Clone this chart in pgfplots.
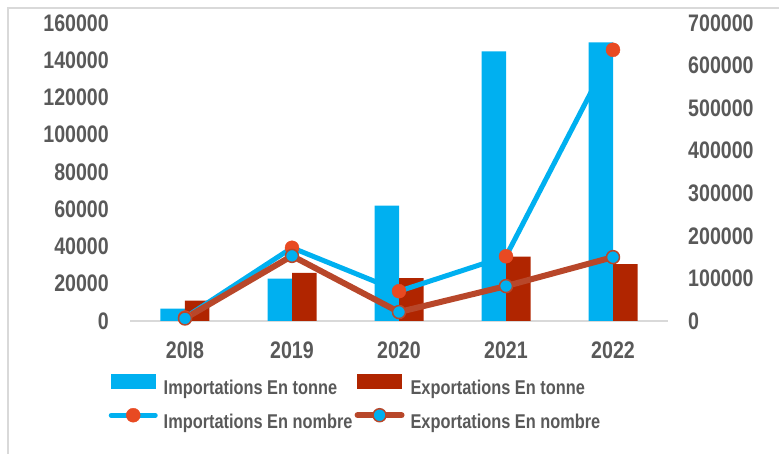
\documentclass[border=0pt]{standalone}
\usepackage{pgfplots}
\pgfplotsset{compat=1.18}
\usepackage{fontspec}
\setmainfont{Liberation Sans}[FakeStretch=0.82]
\definecolor{txt}{HTML}{595959}
\definecolor{frm}{HTML}{D9D9D9}
\definecolor{cblue}{HTML}{00B0F0}
\definecolor{cred}{HTML}{B02500}
\definecolor{corange}{HTML}{E84A22}
\definecolor{cbrown}{HTML}{B8472A}
\pgfplotstableread{
x imp exp
0 6700 10900
1 22800 25800
2 62000 23000
3 144800 34500
4 149600 30500
}\tonnes
\pgfplotstableread{
x imp exp
0 8000 6000
1 172000 153000
2 70000 21000
3 152000 82000
4 637000 150000
}\nombre
\begin{document}
\begin{tikzpicture}
\path[use as bounding box] (0,0) rectangle (779bp,454bp);
\draw[frm, line width=1.2bp] (8bp,0bp) -- (8bp,446bp) -- (779bp,446bp);
\begin{axis}[
  at={(130bp,133bp)}, anchor=south west, scale only axis,
  width=538bp, height=298bp,
  xmin=-0.514, xmax=4.514, ymin=0, ymax=160000,
  axis x line*=bottom, axis y line*=left,
  x axis line style={draw=frm, line width=1.5bp},
  y axis line style={draw=none},
  major tick length=0pt,
  xtick={0,1,2,3,4}, xticklabels={20I8,2019,2020,2021,2022},
  ytick={0,20000,...,160000},
  scaled y ticks=false,
  /pgf/number format/assume math mode=true,
  yticklabel style={/pgf/number format/fixed, /pgf/number format/1000 sep={},
    font=\fontsize{24}{24}\selectfont\bfseries, text=txt, anchor=east, inner sep=0pt, xshift=-21bp},
  xticklabel style={font=\fontsize{24}{24}\selectfont\bfseries, text=txt, anchor=north, inner sep=0pt, yshift=-21bp},
  ybar, bar width=24.5bp, clip=false,
]
\addplot[fill=cblue, draw=none, bar shift=-12.25bp] table[x=x,y=imp]{\tonnes};
\addplot[fill=cred, draw=none, bar shift=12.25bp] table[x=x,y=exp]{\tonnes};
\end{axis}
\begin{axis}[
  at={(130bp,133bp)}, anchor=south west, scale only axis,
  width=538bp, height=298bp,
  xmin=-0.514, xmax=4.514, ymin=0, ymax=700000,
  axis x line=none, axis y line*=right,
  y axis line style={draw=none},
  major tick length=0pt,
  ytick={0,100000,...,700000},
  scaled y ticks=false,
  /pgf/number format/assume math mode=true,
  yticklabel style={/pgf/number format/fixed, /pgf/number format/1000 sep={},
    font=\fontsize{24}{24}\selectfont\bfseries, text=txt, anchor=west, inner sep=0pt, xshift=20bp},
  clip=false,
  legend columns=2,
  legend cell align=left,
  legend style={at={(-0.0395,-0.178)}, anchor=north west, draw=none, fill=none,
    inner sep=0pt, outer sep=0pt, font=\fontsize{20}{20}\selectfont\bfseries, text=txt,
    row sep=12bp, nodes={inner sep=0pt},
    /tikz/every even column/.append style={column sep=2bp},
    /tikz/every odd column/.append style={column sep=6bp}},
]
\addlegendimage{legend image code/.code={\fill[cblue] (0bp,0bp) rectangle (44bp,14bp);}}
\addlegendentry{Importations En tonne}
\addlegendimage{legend image code/.code={\fill[cred] (0bp,0bp) rectangle (44bp,14bp);}}
\addlegendentry{Exportations En tonne}
\pgfplotsset{legend image code/.code={\draw[mark repeat=2,mark phase=2,#1] plot coordinates {(0bp,7bp) (22bp,7bp) (44bp,7bp)};}}
\addplot[cblue, line width=5bp, line cap=round, line join=round, mark=*, mark size=7bp,
  mark options={fill=corange, draw=corange, line width=0.4bp, solid}] table[x=x,y=imp]{\nombre};
\addlegendentry{Importations En nombre}
\addplot[cbrown, line width=6bp, line cap=round, line join=round, mark=*, mark size=6.5bp,
  mark options={fill=cblue, draw=cbrown, line width=1.5bp, solid}] table[x=x,y=exp]{\nombre};
\addlegendentry{Exportations En nombre}
\end{axis}
\end{tikzpicture}
\end{document}
